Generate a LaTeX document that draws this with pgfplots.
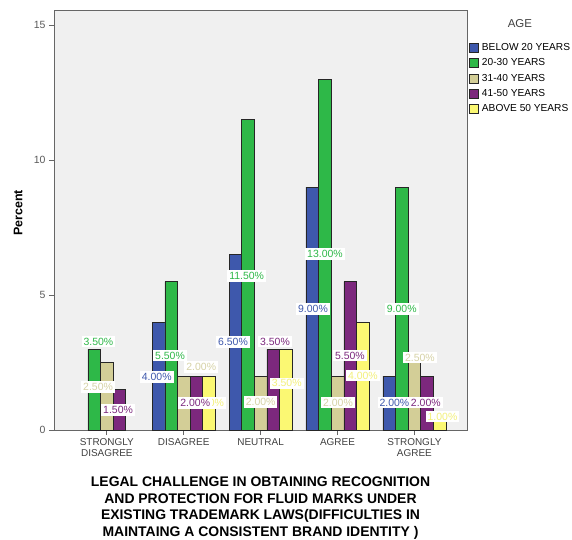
\documentclass[border=0pt]{standalone}
\usepackage{pgfplots}
\pgfplotsset{compat=1.18}
\usepackage{fontspec}
\setmainfont{Liberation Sans}
\definecolor{cBlue}{HTML}{3E58AC}
\definecolor{cGreen}{HTML}{2EB848}
\definecolor{cTan}{HTML}{D3CE97}
\definecolor{cPurple}{HTML}{7C287D}
\definecolor{cYellow}{HTML}{FBF873}
\definecolor{bgGray}{HTML}{F0F0F0}
\definecolor{tTan}{HTML}{D6D2A6}
\definecolor{tYellow}{HTML}{F3F07A}
\tikzset{lbl/.style={fill=white, inner xsep=2bp, inner ysep=2bp, font=\fontsize{10.5}{12}\selectfont}}
\begin{document}
\begin{tikzpicture}
\path[use as bounding box] (-54bp,-110bp) rectangle (518bp,430bp);
\begin{axis}[
  scale only axis, width=413bp, height=420bp,
  at={(0,0)}, anchor=south west, clip=false,
  xmin=-0.687, xmax=4.684, ymin=0, ymax=15.56,
  ybar=0pt, bar width=0.164,
  axis background/.style={fill=bgGray},
  axis line style={draw=black!60, line width=0.8bp},
  tick style={draw=black!60, line width=0.7bp},
  tick align=outside, major tick length=5bp,
  xtick={0,1,2,3,4},
  xticklabels={{STRONGLY\\DISAGREE},DISAGREE,NEUTRAL,AGREE,{STRONGLY\\AGREE}},
  xticklabel style={align=center, font=\fontsize{10}{11}\selectfont, text=black!75},
  ytick={0,5,10,15},
  yticklabel style={font=\fontsize{10.5}{12}\selectfont, text=black!65},
  /pgf/number format/assume math mode=true,
  xtick pos=left, ytick pos=left,
  ylabel={\textbf{Percent}},
  every axis y label/.style={at={(axis description cs:-0.087,0.517)}, rotate=90, anchor=center, font=\fontsize{12.5}{14}\selectfont},
  xlabel={\textbf{LEGAL CHALLENGE IN OBTAINING RECOGNITION}\\\textbf{AND PROTECTION FOR FLUID MARKS UNDER}\\\textbf{EXISTING TRADEMARK LAWS(DIFFICULTIES IN}\\\textbf{MAINTAING A CONSISTENT BRAND IDENTITY )}},
  every axis x label/.style={at={(axis description cs:0.5,-0.186)}, anchor=center, align=center, font=\fontsize{14}{16.5}\selectfont},
  legend image code/.code={\draw[#1] (0bp,-4.5bp) rectangle (9bp,4.5bp);},
  legend style={at={(axis description cs:1.004,0.925)}, anchor=north west, draw=none, fill=none,
    font=\fontsize{10.2}{11}\selectfont, inner sep=0pt, row sep=2.6bp, column sep=1.5bp},
  legend cell align=left,
]
\addplot[fill=cBlue, draw=black!85, line width=0.6bp] coordinates {(1,4) (2,6.5) (3,9) (4,2)};
\addplot[fill=cGreen, draw=black!85, line width=0.6bp] coordinates {(0,3) (1,5.5) (2,11.5) (3,13) (4,9)};
\addplot[fill=cTan, draw=black!85, line width=0.6bp] coordinates {(0,2.5) (1,2) (2,2) (3,2) (4,2.5)};
\addplot[fill=cPurple, draw=black!85, line width=0.6bp] coordinates {(0,1.5) (1,2) (2,3) (3,5.5) (4,2)};
\addplot[fill=cYellow, draw=black!85, line width=0.6bp] coordinates {(1,2) (2,3) (3,4) (4,0.5)};
\legend{BELOW 20 YEARS,20-30 YEARS,31-40 YEARS,41-50 YEARS,ABOVE 50 YEARS}
% value labels
\node[lbl, text=cGreen] at (axis cs:-0.11,3.27) {3.50\%};
\node[lbl, text=tTan] at (axis cs:-0.114,1.60) {2.50\%};
\node[lbl, text=cPurple] at (axis cs:0.146,0.74) {1.50\%};
\node[lbl, text=cGreen] at (axis cs:0.822,2.75) {5.50\%};
\node[lbl, text=cBlue] at (axis cs:0.649,1.97) {4.00\%};
\node[lbl, text=tTan] at (axis cs:1.228,2.34) {2.00\%};
\node[lbl, text=tYellow] at (axis cs:1.33,1.0) {2.00\%};
\node[lbl, text=cPurple] at (axis cs:1.15,1.0) {2.00\%};
\node[lbl, text=cGreen] at (axis cs:1.819,5.71) {11.50\%};
\node[lbl, text=cBlue] at (axis cs:1.641,3.26) {6.50\%};
\node[lbl, text=cPurple] at (axis cs:2.187,3.27) {3.50\%};
\node[lbl, text=tYellow] at (axis cs:2.34,1.73) {3.50\%};
\node[lbl, text=tTan] at (axis cs:2.0,1.03) {2.00\%};
\node[lbl, text=cGreen] at (axis cs:2.837,6.52) {13.00\%};
\node[lbl, text=cBlue] at (axis cs:2.681,4.48) {9.00\%};
\node[lbl, text=cPurple] at (axis cs:3.162,2.75) {5.50\%};
\node[lbl, text=tYellow] at (axis cs:3.331,2.01) {4.00\%};
\node[lbl, text=tTan] at (axis cs:3.006,1.01) {2.00\%};
\node[lbl, text=cGreen] at (axis cs:3.835,4.48) {9.00\%};
\node[lbl, text=tTan] at (axis cs:4.072,2.68) {2.50\%};
\node[lbl, text=cBlue] at (axis cs:3.74,1.01) {2.00\%};
\node[lbl, text=tYellow] at (axis cs:4.365,0.49) {1.00\%};
\node[lbl, text=cPurple] at (axis cs:4.148,1.01) {2.00\%};
\node[font=\fontsize{11.5}{13}\selectfont, text=black!75] at (axis description cs:1.128,0.967) {AGE};
\end{axis}
\end{tikzpicture}
\end{document}
